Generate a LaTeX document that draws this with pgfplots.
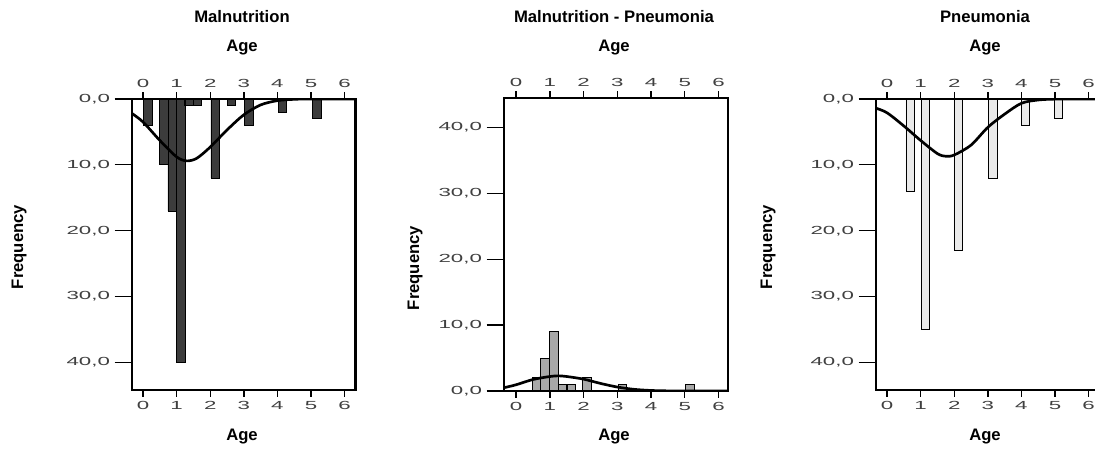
\documentclass[border=0pt]{standalone}
\usepackage{pgfplots}
\pgfplotsset{compat=1.18}
\usepackage{fontspec}
\setmainfont{Liberation Sans}
\newfontfamily\tickfont[FakeStretch=1.9]{Liberation Sans}
\definecolor{bar1}{HTML}{3C3C3C}
\definecolor{bar2}{HTML}{A8A8A8}
\definecolor{bar3}{HTML}{EAEAEA}
\pgfplotsset{
  base/.style={
    scale only axis, width=168pt, height=218.25pt,
    xmin=-0.33, xmax=6.34,
    xtick={0,1,2,3,4,5,6},
    axis line style={line width=1.3pt},
    every tick/.style={black, line width=1pt},
    tick align=outside,
    /pgf/number format/assume math mode=true,
    tick label style={font=\tickfont\fontsize{8.8}{10}\selectfont, text=black!75},
    clip=true,
  },
  main/.style={base, xtick=\empty, major tick length=13pt, ytick pos=left},
  over/.style={base, hide y axis, ymin=0, ymax=1, major tick length=5pt},
  curve/.style={smooth, line width=2pt, black},
}
\newcommand{\bigtxt}{\bfseries\fontsize{12.5}{14}\selectfont}
\begin{document}
\begin{tikzpicture}
% ---------- Panel 1: Malnutrition ----------
\begin{axis}[main, at={(99pt,44.25pt)}, anchor=south west,
  ymin=-44.2, ymax=0, ytick={-40,-30,-20,-10,0},
  yticklabels={{40,0},{30,0},{20,0},{10,0},{0,0}}]
\addplot[ybar, bar width=0.26, bar shift=0pt, fill=bar1, draw=black, line width=0.6pt]
  coordinates {(0.15,-4) (0.62,-10) (0.87,-17) (1.12,-40) (1.37,-1) (1.62,-1)
               (2.15,-12) (2.63,-1) (3.15,-4) (4.15,-2) (5.17,-3)};
\addplot[curve] coordinates {(-0.33,-2.2) (0,-3.5) (0.5,-6.3) (1,-8.8) (1.3,-9.4) (1.6,-9.0)
  (2,-7.3) (2.5,-4.7) (3,-2.4) (3.5,-0.9) (4,-0.25) (4.5,-0.05) (5,0) (6.34,0)};
\end{axis}
\begin{axis}[over, at={(99pt,44.25pt)}, anchor=south west, xtick pos=left, xticklabel pos=left]
\end{axis}
\begin{axis}[over, at={(99pt,44.25pt)}, anchor=south west, xtick pos=right, xticklabel pos=right]
\end{axis}
% ---------- Panel 2: Malnutrition - Pneumonia ----------
\begin{axis}[main, at={(378pt,43.5pt)}, anchor=south west, height=219.75pt,
  xmin=-0.36, xmax=6.28, ymin=0, ymax=44.5, ytick={0,10,20,30,40},
  yticklabels={{0,0},{10,0},{20,0},{30,0},{40,0}}]
\addplot[ybar, bar width=0.26, bar shift=0pt, fill=bar2, draw=black, line width=0.6pt]
  coordinates {(0.6,2) (0.85,5) (1.11,9) (1.38,1) (1.63,1) (2.1,2) (3.15,1) (5.15,1)};
\addplot[curve] coordinates {(-0.36,0.5) (0,0.95) (0.5,1.75) (1,2.2) (1.25,2.3) (1.5,2.2)
  (2,1.8) (2.5,1.15) (3,0.6) (3.5,0.25) (4,0.08) (4.5,0.02) (5,0) (6.28,0)};
\end{axis}
\begin{axis}[over, at={(378pt,43.5pt)}, anchor=south west, height=219.75pt,
  xmin=-0.36, xmax=6.28, xtick pos=left, xticklabel pos=left]
\end{axis}
\begin{axis}[over, at={(378pt,43.5pt)}, anchor=south west, height=219.75pt,
  xmin=-0.36, xmax=6.28, xtick pos=right, xticklabel pos=right]
\end{axis}
% ---------- Panel 3: Pneumonia ----------
\begin{axis}[main, at={(657pt,44.25pt)}, anchor=south west,
  ymin=-44.2, ymax=0, ytick={-40,-30,-20,-10,0},
  yticklabels={{40,0},{30,0},{20,0},{10,0},{0,0}}]
\addplot[ybar, bar width=0.24, bar shift=0pt, fill=bar3, draw=black, line width=0.6pt]
  coordinates {(0.68,-14) (1.13,-35) (2.11,-23) (3.15,-12) (4.11,-4) (5.11,-3)};
\addplot[curve] coordinates {(-0.33,-1.4) (0,-2.1) (0.5,-4.1) (1,-6.3) (1.5,-8.3) (1.75,-8.7)
  (2,-8.5) (2.5,-7.0) (3,-4.3) (3.5,-2.3) (4,-0.65) (4.5,-0.15) (5,-0.02) (5.5,0) (6.34,0)};
\end{axis}
\begin{axis}[over, at={(657pt,44.25pt)}, anchor=south west, xtick pos=left, xticklabel pos=left]
\end{axis}
\begin{axis}[over, at={(657pt,44.25pt)}, anchor=south west, xtick pos=right, xticklabel pos=right]
\end{axis}
% ---------- frame line of panel 1 ----------
\draw[line width=2pt, black] (266.8pt,43.6pt) -- (266.8pt,263.1pt);
% ---------- texts ----------
\node[font=\bigtxt] at (181.5pt,324pt) {Malnutrition};
\node[font=\bigtxt] at (181.5pt,300.75pt) {Age};
\node[font=\bigtxt] at (181.5pt,9.5pt) {Age};
\node[font=\bigtxt] at (460.5pt,324pt) {Malnutrition - Pneumonia};
\node[font=\bigtxt] at (460.5pt,300.75pt) {Age};
\node[font=\bigtxt] at (460.5pt,9.5pt) {Age};
\node[font=\bigtxt] at (738.75pt,324pt) {Pneumonia};
\node[font=\bigtxt] at (738.75pt,300.75pt) {Age};
\node[font=\bigtxt] at (738.75pt,9.5pt) {Age};
\node[font=\bigtxt, rotate=90] at (14.25pt,151.5pt) {Frequency};
\node[font=\bigtxt, rotate=90] at (311.25pt,135.75pt) {Frequency};
\node[font=\bigtxt, rotate=90] at (576pt,151.5pt) {Frequency};
\pgfresetboundingbox
\path[use as bounding box] (0,0) rectangle (821.25pt,336.75pt);
\end{tikzpicture}
\end{document}
